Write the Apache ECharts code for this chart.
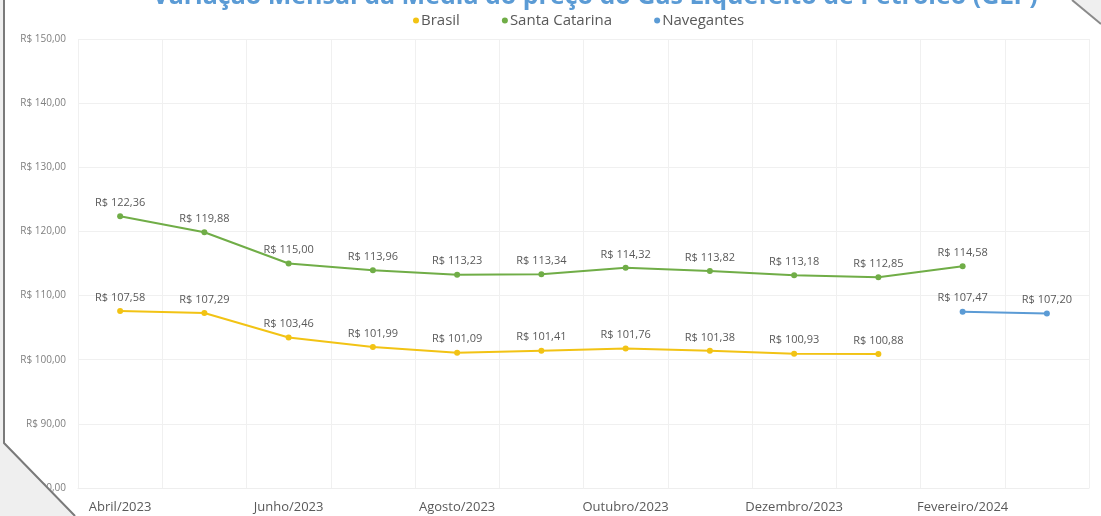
<!DOCTYPE html>
<html>
<head>
<meta charset="utf-8">
<script src="https://cdn.jsdelivr.net/npm/echarts@6/dist/echarts.min.js"></script>
<style>
    html, body { margin: 0; padding: 0; background: #fff; }
    #chart { width: 1101px; height: 516px; }
</style>
</head>
<body>
<div id="chart"></div>
<script>
const months = ['Abril/2023', 'Maio/2023', 'Junho/2023', 'Julho/2023', 'Agosto/2023', 'Setembro/2023',
    'Outubro/2023', 'Novembro/2023', 'Dezembro/2023', 'Janeiro/2024', 'Fevereiro/2024', 'Março/2024'];
const brasil = [107.58, 107.29, 103.46, 101.99, 101.09, 101.41, 101.76, 101.38, 100.93, 100.88, null, null];
const santaCatarina = [122.36, 119.88, 115.00, 113.96, 113.23, 113.34, 114.32, 113.82, 113.18, 112.85, 114.58, null];
const navegantes = [null, null, null, null, null, null, null, null, null, null, 107.47, 107.20];

const fontFamily = '"Open Sans", "Noto Sans", sans-serif';

function brl(v) {
    return 'R$ ' + Number(v).toFixed(2).replace('.', ',');
}

function lineSeries(name, data, color) {
    return {
        name: name,
        type: 'line',
        data: data,
        symbol: 'circle',
        symbolSize: 6,
        lineStyle: { width: 2, color: color },
        itemStyle: { color: color },
        label: {
            show: true,
            position: 'top',
            distance: 5,
            color: '#595959',
            fontSize: 11,
            fontFamily: fontFamily,
            formatter: (p) => brl(p.value)
        }
    };
}

const chart = echarts.init(document.getElementById('chart'));
chart.setOption({
    animation: false,
    title: {
        text: 'Variação Mensal da Média do preço do Gás Liquefeito de Petróleo (GLP)',
        left: 590,
        textAlign: 'center',
        top: -21,
        textStyle: { color: '#5b9bd5', fontSize: 25, fontWeight: 'bold', fontFamily: fontFamily }
    },
    legend: {
        top: 8,
        left: 408,
        icon: 'circle',
        itemWidth: 6,
        itemHeight: 6,
        itemGap: 42,
        textStyle: { color: '#595959', fontSize: 15, fontFamily: fontFamily, padding: [0, 0, 0, -3] },
        data: ['Brasil', 'Santa Catarina', 'Navegantes']
    },
    grid: { left: 78, right: 12, top: 39, bottom: 28, containLabel: false },
    xAxis: {
        type: 'category',
        data: months,
        boundaryGap: true,
        axisLine: { lineStyle: { color: '#eeeeee' } },
        axisTick: { show: false },
        axisLabel: {
            interval: 1,
            color: '#595959',
            fontSize: 13,
            fontFamily: fontFamily,
            margin: 13
        },
        splitLine: { show: true, interval: 0, lineStyle: { color: '#f0f0f0' } }
    },
    yAxis: {
        type: 'value',
        min: 80,
        max: 150,
        interval: 10,
        axisLine: { show: false },
        axisTick: { show: false },
        axisLabel: {
            color: '#7f7f7f',
            fontSize: 10,
            fontFamily: fontFamily,
            margin: 12,
            formatter: (v) => brl(v)
        },
        splitLine: { lineStyle: { color: '#f0f0f0' } }
    },
    series: [
        lineSeries('Brasil', brasil, '#f2c314'),
        lineSeries('Santa Catarina', santaCatarina, '#70ad47'),
        lineSeries('Navegantes', navegantes, '#5b9bd5')
    ],
    graphic: [
        {
            type: 'polygon',
            z: 100,
            shape: { points: [[0, 0], [5, 0], [5, 443], [76, 516], [0, 516]] },
            style: { fill: '#efefef' }
        },
        {
            type: 'polyline',
            z: 101,
            shape: { points: [[4, 0], [4, 443], [75, 516]] },
            style: { stroke: '#7a7a7a', lineWidth: 2, fill: null }
        },
        {
            type: 'polygon',
            z: 100,
            shape: { points: [[1072, 0], [1101, 0], [1101, 24]] },
            style: { fill: '#efefef' }
        },
        {
            type: 'line',
            z: 101,
            shape: { x1: 1072, y1: 0, x2: 1101, y2: 24 },
            style: { stroke: '#8a8a8a', lineWidth: 2 }
        }
    ]
});
</script>
</body>
</html>
